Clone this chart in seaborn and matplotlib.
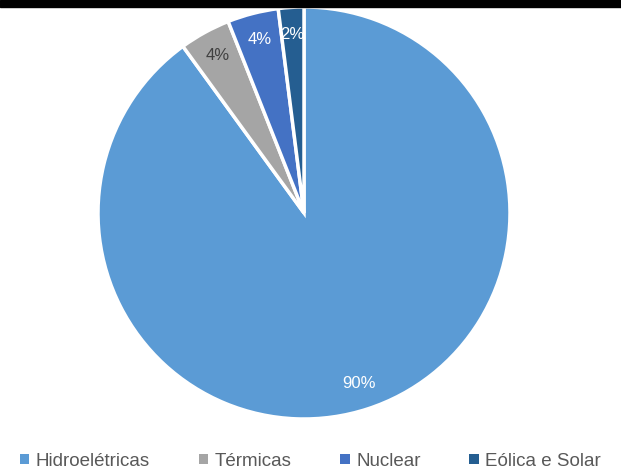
import matplotlib
matplotlib.use("Agg")
import matplotlib.pyplot as plt
from matplotlib.patches import Rectangle
import seaborn as sns

# Matriz elétrica: participação por fonte (%)
fontes = ["Hidroelétricas", "Térmicas", "Nuclear", "Eólica e Solar"]
participacao = [90, 4, 4, 2]
cores = ["#5B9BD5", "#A5A5A5", "#4472C4", "#255E91"]
cores_rotulo = ["#FFFFFF", "#404040", "#FFFFFF", "#FFFFFF"]

sns.set_theme(style="white")
plt.rcParams["font.family"] = ["Liberation Sans", "DejaVu Sans"]
paleta = sns.color_palette(cores)

fig = plt.figure(figsize=(6.21, 4.76), dpi=100)
fig.patch.set_facecolor("white")

# faixa escura no topo da figura
fig.patches.append(Rectangle((0, 1 - 6.5 / 476), 1, 6.5 / 476,
                             transform=fig.transFigure, color="black", zorder=0))

ax = fig.add_axes([98 / 621, 57 / 476, 412 / 621, 412 / 476])
wedges, textos, pcts = ax.pie(
    participacao,
    colors=paleta,
    startangle=90,
    counterclock=False,
    autopct=lambda p: f"{p:.0f}%",
    pctdistance=0.87,
    wedgeprops=dict(edgecolor="white", linewidth=2.5),
    textprops=dict(fontsize=12),
)
for t, c in zip(pcts, cores_rotulo):
    t.set_color(c)
ax.set_xlim(-1, 1)
ax.set_ylim(-1, 1)
ax.set_aspect("equal")
ax.axis("off")

alcas = [Rectangle((0, 0), 1, 1, facecolor=c, edgecolor="none") for c in paleta]
leg = fig.legend(
    alcas, fontes,
    loc="center", bbox_to_anchor=(0.5, 1 - 461 / 476),
    ncol=4, frameon=False, fontsize=13.5,
    handlelength=0.5, handleheight=0.5, handletextpad=0.35,
    columnspacing=2.6,
)
for t in leg.get_texts():
    t.set_color("#595959")

fig.savefig("out.png", dpi=100, facecolor="white")
